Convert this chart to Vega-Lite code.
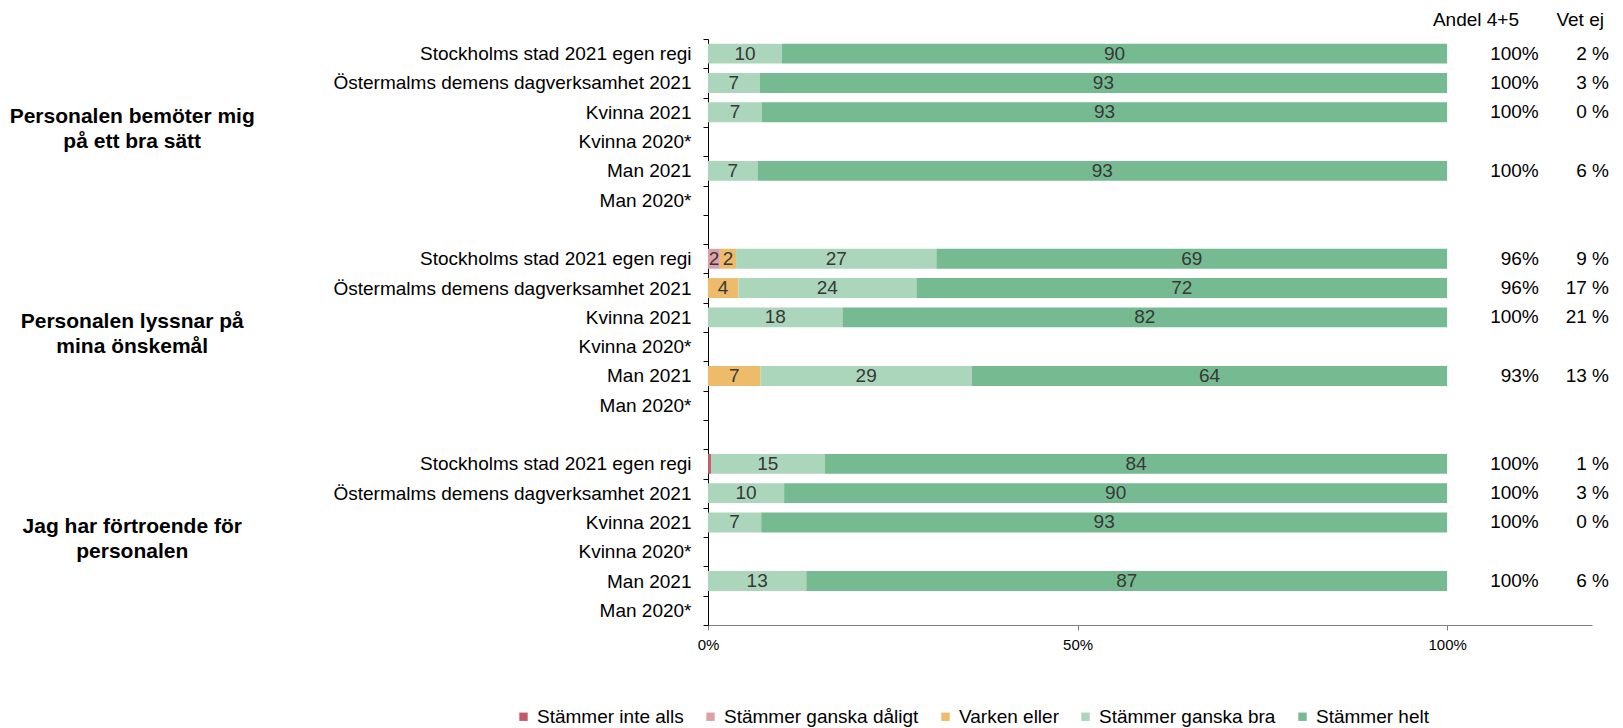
{
  "$schema": "https://vega.github.io/schema/vega-lite/v6.json",
  "width": 884,
  "height": 586,
  "padding": {"left": 9, "top": 10, "right": 0, "bottom": 0},
  "config": {"view": {"stroke": null}, "font": "Liberation Sans"},
  "datasets": {
    "bars": [
      {"row": "1|Stockholms stad 2021 egen regi", "cat": "Stämmer ganska bra", "k": 4, "v": 10},
      {"row": "1|Stockholms stad 2021 egen regi", "cat": "Stämmer helt", "k": 5, "v": 90},
      {"row": "1|Östermalms demens dagverksamhet 2021", "cat": "Stämmer ganska bra", "k": 4, "v": 7},
      {"row": "1|Östermalms demens dagverksamhet 2021", "cat": "Stämmer helt", "k": 5, "v": 93},
      {"row": "1|Kvinna 2021", "cat": "Stämmer ganska bra", "k": 4, "v": 7.3},
      {"row": "1|Kvinna 2021", "cat": "Stämmer helt", "k": 5, "v": 92.7},
      {"row": "1|Man 2021", "cat": "Stämmer ganska bra", "k": 4, "v": 6.7},
      {"row": "1|Man 2021", "cat": "Stämmer helt", "k": 5, "v": 93.3},
      {"row": "2|Stockholms stad 2021 egen regi", "cat": "Stämmer ganska dåligt", "k": 2, "v": 1.6},
      {"row": "2|Stockholms stad 2021 egen regi", "cat": "Varken eller", "k": 3, "v": 2.2},
      {"row": "2|Stockholms stad 2021 egen regi", "cat": "Stämmer ganska bra", "k": 4, "v": 27.1},
      {"row": "2|Stockholms stad 2021 egen regi", "cat": "Stämmer helt", "k": 5, "v": 69.1},
      {"row": "2|Östermalms demens dagverksamhet 2021", "cat": "Varken eller", "k": 3, "v": 4.1},
      {"row": "2|Östermalms demens dagverksamhet 2021", "cat": "Stämmer ganska bra", "k": 4, "v": 24.1},
      {"row": "2|Östermalms demens dagverksamhet 2021", "cat": "Stämmer helt", "k": 5, "v": 71.8},
      {"row": "2|Kvinna 2021", "cat": "Stämmer ganska bra", "k": 4, "v": 18.2},
      {"row": "2|Kvinna 2021", "cat": "Stämmer helt", "k": 5, "v": 81.8},
      {"row": "2|Man 2021", "cat": "Varken eller", "k": 3, "v": 7.1},
      {"row": "2|Man 2021", "cat": "Stämmer ganska bra", "k": 4, "v": 28.6},
      {"row": "2|Man 2021", "cat": "Stämmer helt", "k": 5, "v": 64.3},
      {"row": "3|Stockholms stad 2021 egen regi", "cat": "Stämmer inte alls", "k": 1, "v": 0.4},
      {"row": "3|Stockholms stad 2021 egen regi", "cat": "Stämmer ganska bra", "k": 4, "v": 15.4},
      {"row": "3|Stockholms stad 2021 egen regi", "cat": "Stämmer helt", "k": 5, "v": 84.2},
      {"row": "3|Östermalms demens dagverksamhet 2021", "cat": "Stämmer ganska bra", "k": 4, "v": 10.3},
      {"row": "3|Östermalms demens dagverksamhet 2021", "cat": "Stämmer helt", "k": 5, "v": 89.7},
      {"row": "3|Kvinna 2021", "cat": "Stämmer ganska bra", "k": 4, "v": 7.2},
      {"row": "3|Kvinna 2021", "cat": "Stämmer helt", "k": 5, "v": 92.8},
      {"row": "3|Man 2021", "cat": "Stämmer ganska bra", "k": 4, "v": 13.3},
      {"row": "3|Man 2021", "cat": "Stämmer helt", "k": 5, "v": 86.7}
    ],
    "stats": [
      {"row": "1|Stockholms stad 2021 egen regi", "andel": "100%", "vetej": "2 %"},
      {"row": "1|Östermalms demens dagverksamhet 2021", "andel": "100%", "vetej": "3 %"},
      {"row": "1|Kvinna 2021", "andel": "100%", "vetej": "0 %"},
      {"row": "1|Man 2021", "andel": "100%", "vetej": "6 %"},
      {"row": "2|Stockholms stad 2021 egen regi", "andel": "96%", "vetej": "9 %"},
      {"row": "2|Östermalms demens dagverksamhet 2021", "andel": "96%", "vetej": "17 %"},
      {"row": "2|Kvinna 2021", "andel": "100%", "vetej": "21 %"},
      {"row": "2|Man 2021", "andel": "93%", "vetej": "13 %"},
      {"row": "3|Stockholms stad 2021 egen regi", "andel": "100%", "vetej": "1 %"},
      {"row": "3|Östermalms demens dagverksamhet 2021", "andel": "100%", "vetej": "3 %"},
      {"row": "3|Kvinna 2021", "andel": "100%", "vetej": "0 %"},
      {"row": "3|Man 2021", "andel": "100%", "vetej": "6 %"}
    ],
    "titles": [
      {"row": "1|Kvinna 2020*", "title": "Personalen bemöter mig\npå ett bra sätt"},
      {"row": "2|Kvinna 2020*", "title": "Personalen lyssnar på\nmina önskemål"},
      {"row": "3|Kvinna 2020*", "title": "Jag har förtroende för\npersonalen"}
    ]
  },
  "encoding": {
    "y": {
      "field": "row",
      "type": "nominal",
      "title": null,
      "scale": {
        "domain": [
          "1|Stockholms stad 2021 egen regi", "1|Östermalms demens dagverksamhet 2021", "1|Kvinna 2021", "1|Kvinna 2020*", "1|Man 2021", "1|Man 2020*", "1|",
          "2|Stockholms stad 2021 egen regi", "2|Östermalms demens dagverksamhet 2021", "2|Kvinna 2021", "2|Kvinna 2020*", "2|Man 2021", "2|Man 2020*", "2|",
          "3|Stockholms stad 2021 egen regi", "3|Östermalms demens dagverksamhet 2021", "3|Kvinna 2021", "3|Kvinna 2020*", "3|Man 2021", "3|Man 2020*"
        ],
        "paddingInner": 0,
        "paddingOuter": 0
      },
      "axis": {
        "labelExpr": "split(datum.label, '|')[1]",
        "tickBand": "extent",
        "tickSize": 5,
        "labelPadding": 12,
        "labelFontSize": 19,
        "labelColor": "#000000",
        "labelLimit": 500,
        "domainColor": "#000000",
        "tickColor": "#000000"
      }
    }
  },
  "layer": [
    {
      "data": {"name": "bars"},
      "transform": [
        {"stack": "v", "groupby": ["row"], "sort": [{"field": "k", "order": "ascending"}], "as": ["v0", "v1"]}
      ],
      "mark": {"type": "bar", "height": {"band": 0.68}},
      "encoding": {
        "x": {
          "field": "v0",
          "type": "quantitative",
          "title": null,
          "scale": {"domain": [0, 119.6], "nice": false, "zero": false},
          "axis": {
            "values": [0, 50, 100],
            "labelExpr": "datum.value + '%'",
            "labelFlush": false,
            "grid": false,
            "tickSize": 5,
            "labelFontSize": 15,
            "labelColor": "#000000",
            "domainColor": "#808080",
            "tickColor": "#808080",
            "labelPadding": 7
          }
        },
        "x2": {"field": "v1"},
        "color": {
          "field": "cat",
          "type": "nominal",
          "scale": {
            "domain": ["Stämmer inte alls", "Stämmer ganska dåligt", "Varken eller", "Stämmer ganska bra", "Stämmer helt"],
            "range": ["#C55A67", "#DCA0A8", "#EDBB6A", "#ABD6BC", "#76BA92"]
          },
          "legend": {
            "title": null,
            "orient": "none",
            "legendX": -194,
            "legendY": 668,
            "direction": "horizontal",
            "symbolType": "square",
            "symbolSize": 70,
            "symbolStrokeWidth": 0,
            "labelFontSize": 19,
            "labelColor": "#000000",
            "labelOffset": 4,
            "columnPadding": 17,
            "labelLimit": 400
          }
        }
      }
    },
    {
      "data": {"name": "bars"},
      "transform": [
        {"stack": "v", "groupby": ["row"], "sort": [{"field": "k", "order": "ascending"}], "as": ["v0", "v1"]},
        {"filter": "datum.v >= 1"},
        {"calculate": "(datum.v0 + datum.v1) / 2", "as": "mid"}
      ],
      "mark": {"type": "text", "fontSize": 19, "color": "#383838", "align": "center", "baseline": "middle"},
      "encoding": {
        "x": {"field": "mid", "type": "quantitative"},
        "text": {"field": "v", "type": "quantitative", "format": ".0f"}
      }
    },
    {
      "data": {"name": "stats"},
      "mark": {"type": "text", "fontSize": 19, "color": "#000000", "align": "right", "baseline": "middle"},
      "encoding": {
        "x": {"datum": 112.4, "type": "quantitative"},
        "text": {"field": "andel"}
      }
    },
    {
      "data": {"name": "stats"},
      "mark": {"type": "text", "fontSize": 19, "color": "#000000", "align": "right", "baseline": "middle"},
      "encoding": {
        "x": {"datum": 121.9, "type": "quantitative"},
        "text": {"field": "vetej"}
      }
    },
    {
      "data": {"values": [{"h": "Andel 4+5"}]},
      "mark": {"type": "text", "fontSize": 19, "color": "#000000", "align": "center", "baseline": "middle", "dy": -34},
      "encoding": {
        "x": {"datum": 103.9, "type": "quantitative"},
        "y": {"datum": "1|Stockholms stad 2021 egen regi", "type": "nominal"},
        "text": {"field": "h"}
      }
    },
    {
      "data": {"values": [{"h": "Vet ej"}]},
      "mark": {"type": "text", "fontSize": 19, "color": "#000000", "align": "center", "baseline": "middle", "dy": -34},
      "encoding": {
        "x": {"datum": 118, "type": "quantitative"},
        "y": {"datum": "1|Stockholms stad 2021 egen regi", "type": "nominal"},
        "text": {"field": "h"}
      }
    },
    {
      "data": {"name": "titles"},
      "mark": {"type": "text", "fontSize": 21, "fontWeight": "bold", "color": "#000000", "align": "center", "baseline": "middle", "lineBreak": "\n", "lineHeight": 25, "dy": -10},
      "encoding": {
        "x": {"datum": -77.9, "type": "quantitative"},
        "y": {"field": "row", "type": "nominal", "bandPosition": 0},
        "text": {"field": "title"}
      }
    }
  ]
}
